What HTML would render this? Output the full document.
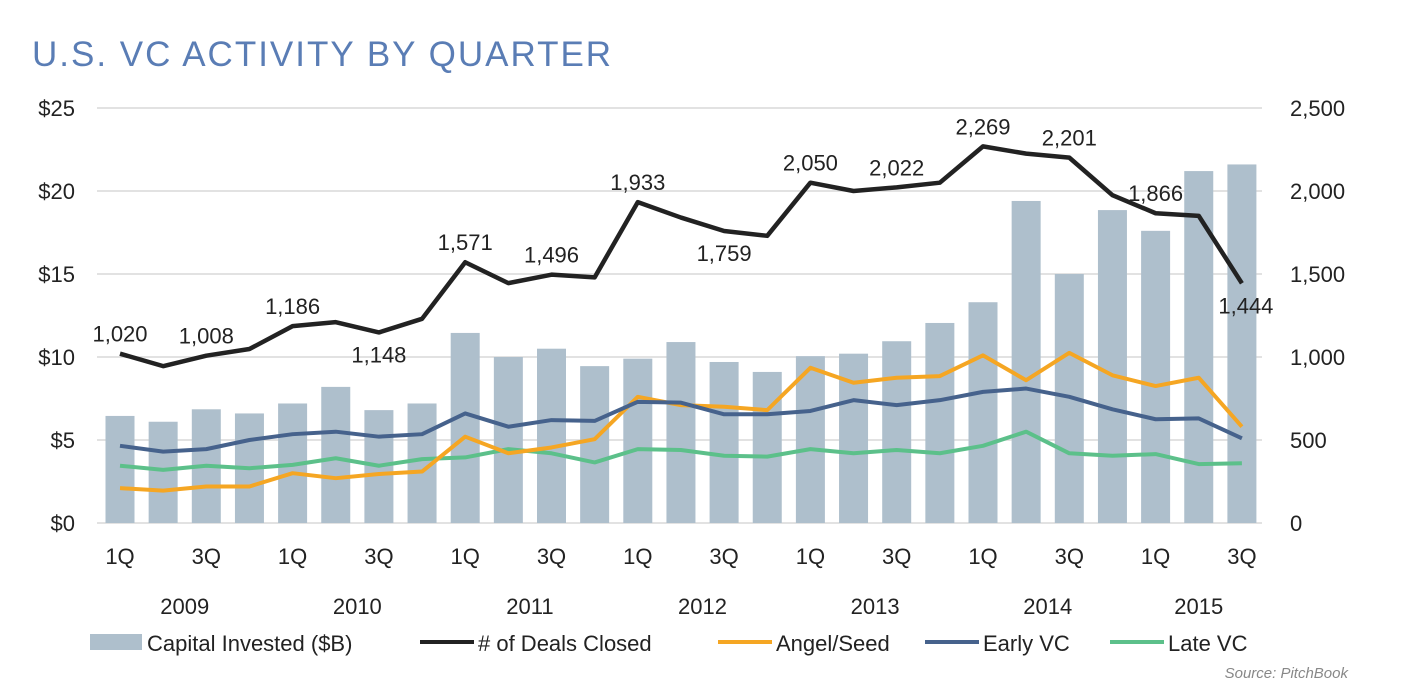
<!DOCTYPE html>
<html><head><meta charset="utf-8"><style>
body{margin:0;background:#fff;}
svg text{font-family:"Liberation Sans",sans-serif;}
</style></head><body>
<svg id="c" width="1406" height="694" xmlns="http://www.w3.org/2000/svg">
<text x="32" y="66" font-size="35" fill="#5a7db5" letter-spacing="2">U.S. VC ACTIVITY BY QUARTER</text>
<g id="grid"></g><g id="bars"></g><g id="lines"></g><g id="labels"></g><g id="axes"></g>
<g font-size="22" fill="#222">
<rect x="90" y="634" width="52" height="16" fill="#aebfcc"/>
<text x="147" y="651">Capital Invested ($B)</text>
<line x1="420" y1="642" x2="474" y2="642" stroke="#222" stroke-width="4"/>
<text x="478" y="651"># of Deals Closed</text>
<line x1="718" y1="642" x2="772" y2="642" stroke="#f5a623" stroke-width="4"/>
<text x="776" y="651">Angel/Seed</text>
<line x1="925" y1="642" x2="979" y2="642" stroke="#46628c" stroke-width="4"/>
<text x="983" y="651">Early VC</text>
<line x1="1110" y1="642" x2="1164" y2="642" stroke="#5cc08a" stroke-width="4"/>
<text x="1168" y="651">Late VC</text>
</g>
<text x="1348" y="678" font-size="15" font-style="italic" fill="#888" text-anchor="end">Source: PitchBook</text>
</svg>
<script>
const quarters=["1Q","2Q","3Q","4Q","1Q","2Q","3Q","4Q","1Q","2Q","3Q","4Q","1Q","2Q","3Q","4Q","1Q","2Q","3Q","4Q","1Q","2Q","3Q","4Q","1Q","2Q","3Q"];
const years=["2009","2010","2011","2012","2013","2014","2015"];
const capital=[6.45,6.1,6.85,6.6,7.2,8.2,6.8,7.2,11.45,10.0,10.5,9.45,9.9,10.9,9.7,9.1,10.05,10.2,10.95,12.05,13.3,19.4,15.0,18.85,17.6,21.2,21.6];
const deals=[1020,945,1008,1048,1186,1210,1148,1230,1571,1445,1496,1480,1933,1840,1759,1730,2050,2000,2022,2050,2269,2225,2201,1975,1866,1850,1444];
const angel=[2.1,1.95,2.2,2.2,3.0,2.7,2.95,3.1,5.2,4.2,4.55,5.05,7.6,7.1,7.0,6.8,9.35,8.45,8.75,8.85,10.1,8.6,10.25,8.9,8.25,8.75,5.8];
const early=[4.65,4.3,4.45,5.0,5.35,5.5,5.2,5.35,6.6,5.8,6.2,6.15,7.3,7.25,6.55,6.55,6.75,7.4,7.1,7.4,7.9,8.1,7.6,6.85,6.25,6.3,5.1];
const late=[3.45,3.2,3.45,3.3,3.5,3.9,3.45,3.85,3.95,4.45,4.2,3.65,4.45,4.4,4.05,4.0,4.45,4.2,4.4,4.2,4.65,5.5,4.2,4.05,4.15,3.55,3.6];
const leftTicks=["$0","$5","$10","$15","$20","$25"];
const rightTicks=["0","500","1,000","1,500","2,000","2,500"];
const labelIdx=[0,2,4,6,8,10,12,14,16,18,20,22,24,26];
const labelBelow=[6,14,26];

const NS="http://www.w3.org/2000/svg";
const x0=120,step=43.15,yBase=523,yTop=108;
const xs=i=>x0+i*step;
const yL=v=>yBase-(v/25)*(yBase-yTop);
const yR=v=>yBase-(v/2500)*(yBase-yTop);
function mk(tag,attrs,parent,txt){const e=document.createElementNS(NS,tag);for(const k in attrs)e.setAttribute(k,attrs[k]);if(txt!==undefined)e.textContent=txt;document.getElementById(parent).appendChild(e);return e;}
leftTicks.forEach((t,i)=>{
  const y=yL(i*5);
  const g=mk("line",{x1:97,x2:1262,y1:y,y2:y,stroke:"#d9d9d9","stroke-width":1.5},"grid");
  
  
  const a=mk("text",{x:75,y:y+8,"font-size":22,"text-anchor":"end",fill:"#222"},"axes",t);
  
  
  const b=mk("text",{x:1290,y:y+8,"font-size":22,fill:"#222"},"axes",rightTicks[i]);
  
  
});
capital.forEach((v,i)=>{
  const r=mk("rect",{x:xs(i)-14.5,y:yL(v),width:29,height:yBase-yL(v),fill:"#aebfcc"},"bars");
  
  
});
quarters.forEach((q,i)=>{
  if(i%2)return;
  const t=mk("text",{x:xs(i),y:564,"font-size":22,"text-anchor":"middle",fill:"#222"},"axes",q);
  
  
});
years.forEach((yr,k)=>{
  const a=k*4, b=Math.min(k*4+3,quarters.length-1);
  const t=mk("text",{x:(xs(a)+xs(b))/2,y:614,"font-size":22,"text-anchor":"middle",fill:"#222"},"axes",yr);
  
  
});
function line(data,f,color,w,name){
  const p=mk("polyline",{points:data.map((v,i)=>xs(i)+","+f(v)).join(" "),fill:"none",stroke:color,"stroke-width":w,"stroke-linejoin":"round"},"lines");
  
  
}
line(late,yL,"#5cc08a",4,"late-vc-line");
line(angel,yL,"#f5a623",4,"angel-seed-line");
line(early,yL,"#46628c",4,"early-vc-line");
line(deals,yR,"#222",4.5,"deals-line");
labelIdx.forEach(i=>{
  const below=labelBelow.includes(i);
  const t=mk("text",{x:xs(i)+(i===26?4:0),y:below?yR(deals[i])+30:yR(deals[i])-12,"font-size":22,"text-anchor":"middle",fill:"#222"},"labels",deals[i].toLocaleString("en-US"));
  
  
});
</script>
</body></html>
